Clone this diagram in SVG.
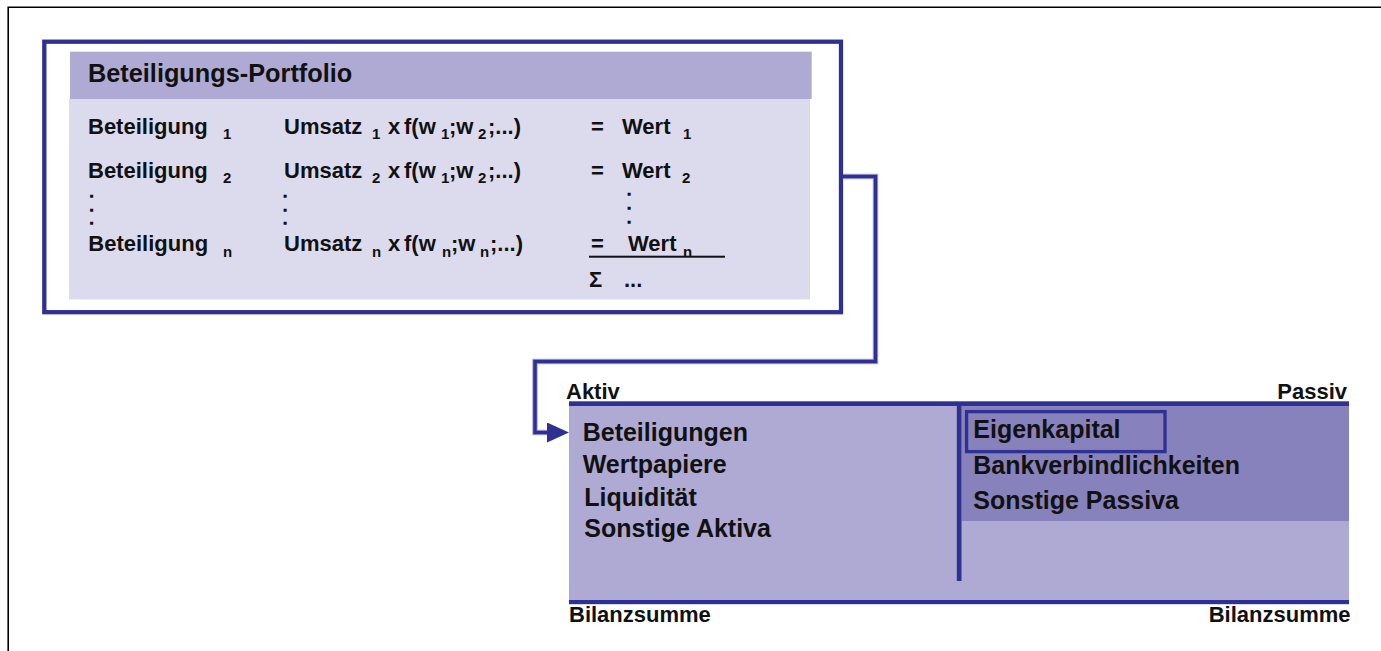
<svg xmlns="http://www.w3.org/2000/svg" width="1381" height="651" viewBox="0 0 1381 651">
<style>
text{font-family:"Liberation Sans",Arial,sans-serif;font-weight:bold;fill:#111}
.h{font-size:25.3px}
.r{font-size:22px}
.s{font-size:15px}
.d{font-size:11.5px;stroke:#111;stroke-width:1.4px}
.b{font-size:25px}
.l{font-size:22px}
.blue{fill:#2e3192}
</style>
<defs>
<marker id="ah" viewBox="0 0 22 20" refX="0" refY="10" markerWidth="22" markerHeight="20" markerUnits="userSpaceOnUse" orient="auto">
<path d="M0,0 L22,10 L0,20 Z" fill="#2e3192"/>
</marker>
</defs>
<rect x="0" y="0" width="1381" height="651" fill="#fff"/>
<g id="frame">
<path d="M8.2,651 V7.3 H1381" fill="none" stroke="#000" stroke-width="1.6"/>
</g>
<g id="portfolio">
<rect x="44.3" y="41.7" width="796.7" height="270.5" fill="#fff" stroke="#2e3192" stroke-width="4.3"/>
<rect x="69" y="99" width="741" height="200.5" fill="#dcdbee"/>
<rect x="70" y="51.7" width="741.7" height="47.3" fill="#aeaad3"/>
<text class="h" x="88" y="82">Beteiligungs-Portfolio</text>
<text class="r" x="88" y="133.5">Beteiligung</text><text class="s" x="223" y="138.5">1</text>
<text class="r" x="284" y="133.5">Umsatz</text><text class="s" x="372" y="138.5">1</text>
<text class="r" x="388" y="133.5">x</text><text class="r" x="404" y="133.5">f(w</text><text class="s" x="441" y="138.5">1</text>
<text class="r" x="449" y="133.5">;w</text><text class="s" x="478" y="138.5">2</text><text class="r" x="488" y="133.5">;...)</text>
<text class="r" x="591" y="133.5">=</text><text class="r" x="622" y="133.5">Wert</text><text class="s" x="683" y="138.5">1</text>

<text class="r" x="88" y="178.3">Beteiligung</text><text class="s" x="223" y="183.3">2</text>
<text class="r" x="284" y="178.3">Umsatz</text><text class="s" x="372" y="183.3">2</text>
<text class="r" x="388" y="178.3">x</text><text class="r" x="404" y="178.3">f(w</text><text class="s" x="441" y="183.3">1</text>
<text class="r" x="449" y="178.3">;w</text><text class="s" x="478" y="183.3">2</text><text class="r" x="488" y="178.3">;...)</text>
<text class="r" x="591" y="178.3">=</text><text class="r" x="622" y="178.3">Wert</text><text class="s" x="682" y="183.3">2</text>

<text class="d"><tspan x="90" y="197">.</tspan><tspan x="90" y="211">.</tspan><tspan x="90" y="224">.</tspan></text>
<text class="d"><tspan x="283.5" y="197">.</tspan><tspan x="283.5" y="211">.</tspan><tspan x="283.5" y="224">.</tspan></text>
<text class="d"><tspan x="627.5" y="195">.</tspan><tspan x="627.5" y="209">.</tspan><tspan x="627.5" y="222.5">.</tspan></text>

<text class="r" x="88.3" y="250.5">Beteiligung</text><text class="s" x="223" y="257">n</text>
<text class="r" x="284" y="250.5">Umsatz</text><text class="s" x="372" y="257">n</text>
<text class="r" x="388" y="250.5">x</text><text class="r" x="404" y="250.5">f(w</text><text class="s" x="442" y="257">n</text>
<text class="r" x="451" y="250.5">;w</text><text class="s" x="480" y="257">n</text><text class="r" x="490" y="250.5">;...)</text>
<text class="r" x="591" y="250.5">=</text><text class="r" x="628" y="250.5">Wert</text><text class="s" x="683" y="257">n</text>
<rect x="589" y="255.7" width="136" height="2" fill="#111"/>
<text class="r" x="589" y="287.3">Σ</text><text class="r" x="624" y="287.3">...</text>
</g>
<g id="connectors">
<path d="M843,176.5 H875.5 V361.5 H535 V432.5 H547" fill="none" stroke="#aaa7d6" stroke-width="5.5"/>
<path d="M843,176.5 H875.5 V361.5 H535 V432.5 H547" fill="none" stroke="#2e3192" stroke-width="3.5" marker-end="url(#ah)"/>
</g>
<g id="bilanz">
<rect x="569" y="404" width="780" height="198" fill="#aeaad3"/>
<rect x="961.7" y="406" width="387.3" height="115" fill="#8781bc"/>
<rect class="blue" x="569" y="401.3" width="780" height="4.7"/>
<rect class="blue" x="569" y="600" width="780" height="4.2"/>
<rect class="blue" x="956.8" y="406" width="4.7" height="175"/>
<text class="l" x="566" y="399">Aktiv</text>
<text class="l" x="1347" y="399" text-anchor="end">Passiv</text>
<text class="l" x="569" y="622">Bilanzsumme</text>
<text class="l" x="1350.5" y="622" text-anchor="end">Bilanzsumme</text>
</g>
<g id="aktiva">
<text class="b" x="582.7" y="441">Beteiligungen</text>
<text class="b" x="582.7" y="473.3">Wertpapiere</text>
<text class="b" x="584.3" y="505.7">Liquidität</text>
<text class="b" x="584.3" y="536.7">Sonstige Aktiva</text>
</g>
<g id="passiva">
<rect x="966.6" y="411.6" width="198.4" height="40" fill="none" stroke="#2e3192" stroke-width="3.3"/>
<text class="b" x="973.3" y="438.3">Eigenkapital</text>
<text class="b" x="973.3" y="474.3">Bankverbindlichkeiten</text>
<text class="b" x="973.3" y="509.3">Sonstige Passiva</text>
</g>
</svg>
